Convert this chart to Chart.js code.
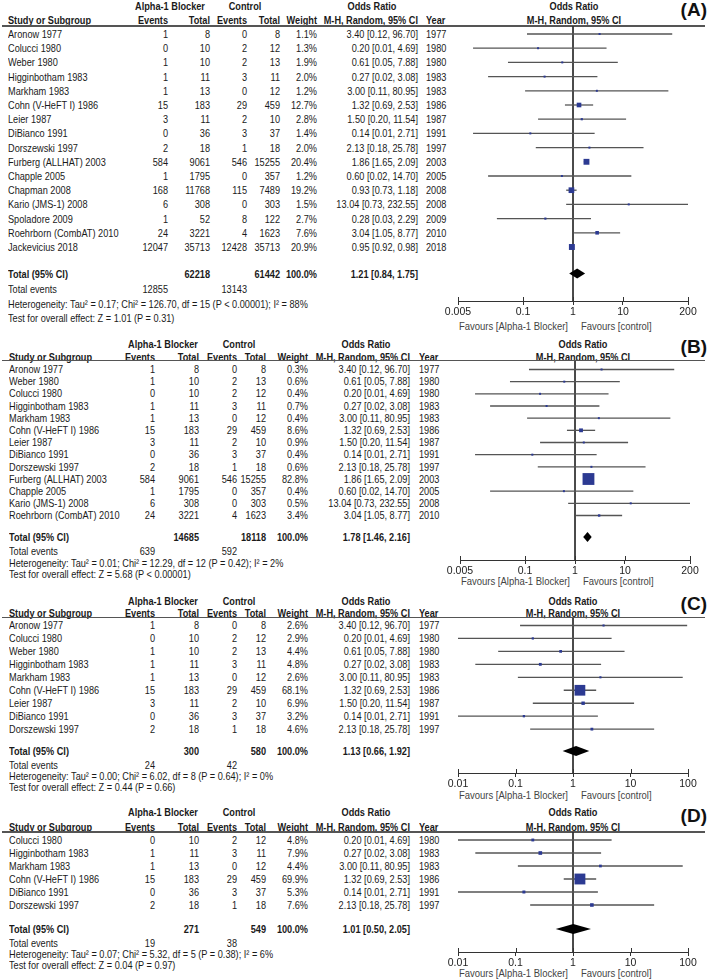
<!DOCTYPE html>
<html><head><meta charset="utf-8">
<script src="https://cdn.jsdelivr.net/npm/chart.js@4.4.1/dist/chart.umd.min.js"></script>
<style>
html,body{margin:0;padding:0;background:#fff;}
#page{position:relative;width:709px;height:980px;overflow:hidden;background:#fff;}
.t{position:absolute;white-space:nowrap;color:#1a1a1a;line-height:12px;height:12px;transform-origin:0 50%;}
.b{font-weight:bold;}
.fav{color:#444;}
.lab{font-weight:bold;line-height:22px;height:22px;color:#111;}
.rule{position:absolute;height:1.2px;background:#555;}
canvas{position:absolute;}
</style></head><body><div id="page"></div>
<script>
// ---------------- DATA ----------------
// Panel A
const studiesA = ['Aronow 1977','Colucci 1980','Weber 1980','Higginbotham 1983','Markham 1983','Cohn (V-HeFT I) 1986','Leier 1987','DiBianco 1991','Dorszewski 1997','Furberg (ALLHAT) 2003','Chapple 2005','Chapman 2008','Kario (JMS-1) 2008','Spoladore 2009','Roehrborn (CombAT) 2010','Jackevicius 2018'];
const alphaEventsA = [1,0,1,1,1,15,3,0,2,584,1,168,6,1,24,12047];
const alphaTotalA = [8,10,10,11,13,183,11,36,18,9061,1795,11768,308,52,3221,35713];
const controlEventsA = [0,2,2,3,0,29,2,3,1,546,0,115,0,8,4,12428];
const controlTotalA = [8,12,13,11,12,459,10,37,18,15255,357,7489,303,122,1623,35713];
const weightA = [1.1,1.3,1.9,2.0,1.2,12.7,2.8,1.4,2.0,20.4,1.2,19.2,1.5,2.7,7.6,20.9];
const oddsA = [3.40,0.20,0.61,0.27,3.00,1.32,1.50,0.14,2.13,1.86,0.60,0.93,13.04,0.28,3.04,0.95];
const lowA = [0.12,0.01,0.05,0.02,0.11,0.69,0.20,0.01,0.18,1.65,0.02,0.73,0.73,0.03,1.05,0.92];
const highA = [96.70,4.69,7.88,3.08,80.95,2.53,11.54,2.71,25.78,2.09,14.70,1.18,232.55,2.29,8.77,0.98];
const yearA = [1977,1980,1980,1983,1983,1986,1987,1991,1997,2003,2005,2008,2008,2009,2010,2018];
const totalA = [62218,61442];
const pooledA = [1.21,0.84,1.75];
const eventsA = [12855,13143];
const hetA = 'Heterogeneity: Tau² = 0.17; Chi² = 126.70, df = 15 (P < 0.00001); I² = 88%';
const effectA = 'Test for overall effect: Z = 1.01 (P = 0.31)';

// Panel B
const studiesB = ['Aronow 1977','Weber 1980','Colucci 1980','Higginbotham 1983','Markham 1983','Cohn (V-HeFT I) 1986','Leier 1987','DiBianco 1991','Dorszewski 1997','Furberg (ALLHAT) 2003','Chapple 2005','Kario (JMS-1) 2008','Roehrborn (CombAT) 2010'];
const alphaEventsB = [1,1,0,1,1,15,3,0,2,584,1,6,24];
const alphaTotalB = [8,10,10,11,13,183,11,36,18,9061,1795,308,3221];
const controlEventsB = [0,2,2,3,0,29,2,3,1,546,0,0,4];
const controlTotalB = [8,13,12,11,12,459,10,37,18,15255,357,303,1623];
const weightB = [0.3,0.6,0.4,0.7,0.4,8.6,0.9,0.4,0.6,82.8,0.4,0.5,3.4];
const oddsB = [3.40,0.61,0.20,0.27,3.00,1.32,1.50,0.14,2.13,1.86,0.60,13.04,3.04];
const lowB = [0.12,0.05,0.01,0.02,0.11,0.69,0.20,0.01,0.18,1.65,0.02,0.73,1.05];
const highB = [96.70,7.88,4.69,3.08,80.95,2.53,11.54,2.71,25.78,2.09,14.70,232.55,8.77];
const yearB = [1977,1980,1980,1983,1983,1986,1987,1991,1997,2003,2005,2008,2010];
const totalB = [14685,18118];
const pooledB = [1.78,1.46,2.16];
const eventsB = [639,592];
const hetB = 'Heterogeneity: Tau² = 0.01; Chi² = 12.29, df = 12 (P = 0.42); I² = 2%';
const effectB = 'Test for overall effect: Z = 5.68 (P < 0.00001)';

// Panel C
const studiesC = ['Aronow 1977','Colucci 1980','Weber 1980','Higginbotham 1983','Markham 1983','Cohn (V-HeFT I) 1986','Leier 1987','DiBianco 1991','Dorszewski 1997'];
const alphaEventsC = [1,0,1,1,1,15,3,0,2];
const alphaTotalC = [8,10,10,11,13,183,11,36,18];
const controlEventsC = [0,2,2,3,0,29,2,3,1];
const controlTotalC = [8,12,13,11,12,459,10,37,18];
const weightC = [2.6,2.9,4.4,4.8,2.6,68.1,6.9,3.2,4.6];
const oddsC = [3.40,0.20,0.61,0.27,3.00,1.32,1.50,0.14,2.13];
const lowC = [0.12,0.01,0.05,0.02,0.11,0.69,0.20,0.01,0.18];
const highC = [96.70,4.69,7.88,3.08,80.95,2.53,11.54,2.71,25.78];
const yearC = [1977,1980,1980,1983,1983,1986,1987,1991,1997];
const totalC = [300,580];
const pooledC = [1.13,0.66,1.92];
const eventsC = [24,42];
const hetC = 'Heterogeneity: Tau² = 0.00; Chi² = 6.02, df = 8 (P = 0.64); I² = 0%';
const effectC = 'Test for overall effect: Z = 0.44 (P = 0.66)';

// Panel D
const studiesD = ['Colucci 1980','Higginbotham 1983','Markham 1983','Cohn (V-HeFT I) 1986','DiBianco 1991','Dorszewski 1997'];
const alphaEventsD = [0,1,1,15,0,2];
const alphaTotalD = [10,11,13,183,36,18];
const controlEventsD = [2,3,0,29,3,1];
const controlTotalD = [12,11,12,459,37,18];
const weightD = [4.8,7.9,4.4,69.9,5.3,7.6];
const oddsD = [0.20,0.27,3.00,1.32,0.14,2.13];
const lowD = [0.01,0.02,0.11,0.69,0.01,0.18];
const highD = [4.69,3.08,80.95,2.53,2.71,25.78];
const yearD = [1980,1983,1983,1986,1991,1997];
const totalD = [271,549];
const pooledD = [1.01,0.50,2.05];
const eventsD = [19,38];
const hetD = 'Heterogeneity: Tau² = 0.07; Chi² = 5.32, df = 5 (P = 0.38); I² = 6%';
const effectD = 'Test for overall effect: Z = 0.04 (P = 0.97)';

// Axis ticks
const ticksAB = [0.005,0.1,1,10,200];
const tickLabelsAB = ['0.005','0.1','1','10','200'];
const ticksCD = [0.01,0.1,1,10,100];
const tickLabelsCD = ['0.01','0.1','1','10','100'];

// ---------------- LAYOUT ----------------
const colsA = {study:8, ae:168, at:210, ce:247, ct:280, w:317, or:418, yr:426, alphaC:170, ctrlC:245, orC:372};
const colsBCD = {study:9, ae:155, at:199, ce:237, ct:266, w:308, or:410, yr:419, alphaC:163, ctrlC:239, orC:366};
const layoutA = {h1:6, h2:19.5, rule:26, row0:34, dy:14.2, total:273.5, ev:289, het:304, test:318, axis:301, favY:326, lab:10, plotL:458, plotR:688, headX:574, cols:colsA};
const layoutB = {h1:344, h2:356.5, rule:360.5, row0:369, dy:12.2, total:537, ev:551, het:563, test:574, axis:560, favY:581, lab:347, plotL:460, plotR:690, headX:583, cols:colsBCD};
const layoutC = {h1:601, h2:613, rule:617.5, row0:625, dy:13, total:751, ev:765, het:776, test:787, axis:773, favY:795, lab:604, plotL:458, plotR:688, headX:573, cols:colsBCD};
const layoutD = {h1:812, h2:827, rule:832, row0:840, dy:13, total:929, ev:943, het:954, test:965, axis:952, favY:973, lab:816, plotL:458, plotR:688, headX:573, cols:colsBCD};

// ---------------- FONT ----------------
const FONT = "'Liberation Sans', Arial, Helvetica, sans-serif";
const FS = 10.8;
function measure(s, size, bold, fam){
  const c=document.createElement('canvas').getContext('2d');
  c.font=(bold?'bold ':'')+size+'px '+(fam||FONT);
  return c.measureText(s).width;
}
function hasFont(f){
  const s='Heterogeneity Tau 0123456789 Study';
  return Math.abs(measure(s,20,false,'monospace')-measure(s,20,false,"'"+f+"', monospace"))>0.5;
}
// horizontal compression so that text widths match the reference widths
const SX = (299/measure(hetA,FS) + 83/measure('Study or Subgroup',FS,true) + 111/measure('Roehrborn (CombAT) 2010',FS))/3;
const SXF = 109/measure('Favours [Alpha-1 Blocker]',11);
const TICKFONT = hasFont('Liberation Sans Narrow') ? "'Liberation Sans Narrow', 'Liberation Sans', sans-serif" : FONT;

const page = document.getElementById('page');
function txt(x,y,s,align,cls,size,sx){
  const e=document.createElement('span');
  e.className='t '+(cls||'');
  e.textContent=s;
  e.style.fontFamily=FONT;
  e.style.fontSize=(size||FS)+'px';
  const lh = cls && cls.indexOf('lab')>=0 ? 22 : 12;
  e.style.left=x+'px';
  e.style.top=(y-lh/2)+'px';
  const tr = align==='r' ? ' translateX(-100%)' : align==='c' ? ' translateX(-50%)' : '';
  e.style.transform='scaleX('+(sx||SX)+')'+tr;
  page.appendChild(e);
}
function rule(x1,x2,y){
  const d=document.createElement('div');
  d.className='rule'; d.style.left=x1+'px'; d.style.width=(x2-x1)+'px'; d.style.top=(y-0.6)+'px';
  page.appendChild(d);
}
const f2 = v => v.toFixed(2);
const orText = (e,l,h) => f2(e)+' ['+f2(l)+', '+f2(h)+']';

const forestPlugin = {
  id:'forest',
  afterDatasetsDraw(chart, args, o){
    const {ctx, scales:{x,y}} = chart;
    const yc = y.getPixelForValue(o.totalY);
    const xl = x.getPixelForValue(o.pooled[1]), xm = x.getPixelForValue(o.pooled[0]), xr = x.getPixelForValue(o.pooled[2]);
    ctx.save();
    ctx.fillStyle='#000';
    ctx.beginPath(); ctx.moveTo(xl,yc); ctx.lineTo(xm,yc-5); ctx.lineTo(xr,yc); ctx.lineTo(xm,yc+5); ctx.closePath(); ctx.fill();
    const yb = chart.chartArea.bottom;
    ctx.strokeStyle='#333'; ctx.lineWidth=1;
    o.ticks.forEach(v=>{const px=Math.round(x.getPixelForValue(v))+0.5; ctx.beginPath(); ctx.moveTo(px,yb-4); ctx.lineTo(px,yb); ctx.stroke();});
    ctx.restore();
  }
};

function panel(P){
  const L=P.L, C=L.cols;
  txt(707, L.lab, P.label, 'r', 'lab', 19, 1);
  txt(C.alphaC, L.h1, 'Alpha-1 Blocker', 'c', 'b');
  txt(C.ctrlC, L.h1, 'Control', 'c', 'b');
  txt(C.orC, L.h1, 'Odds Ratio', 'c', 'b');
  txt(L.headX, L.h1, 'Odds Ratio', 'c', 'b');
  txt(C.study, L.h2, 'Study or Subgroup', 'l', 'b');
  txt(C.ae, L.h2, 'Events', 'r', 'b');
  txt(C.at, L.h2, 'Total', 'r', 'b');
  txt(C.ce, L.h2, 'Events', 'r', 'b');
  txt(C.ct, L.h2, 'Total', 'r', 'b');
  txt(C.w, L.h2, 'Weight', 'r', 'b');
  txt(C.or, L.h2, 'M-H, Random, 95% CI', 'r', 'b');
  txt(C.yr, L.h2, 'Year', 'l', 'b');
  txt(L.headX, L.h2, 'M-H, Random, 95% CI', 'c', 'b');
  rule(2, 705, L.rule);
  P.names.forEach((n,i)=>{
    const y = L.row0 + i*L.dy;
    txt(C.study, y, n, 'l');
    txt(C.ae, y, String(P.ae[i]), 'r');
    txt(C.at, y, String(P.at[i]), 'r');
    txt(C.ce, y, String(P.ce[i]), 'r');
    txt(C.ct, y, String(P.ct[i]), 'r');
    txt(C.w, y, P.w[i].toFixed(1)+'%', 'r');
    txt(C.or, y, orText(P.or[i],P.lo[i],P.hi[i]), 'r');
    txt(C.yr, y, String(P.yr[i]), 'l');
  });
  txt(C.study, L.total, 'Total (95% CI)', 'l', 'b');
  txt(C.at, L.total, String(P.total[0]), 'r', 'b');
  txt(C.ct, L.total, String(P.total[1]), 'r', 'b');
  txt(C.w, L.total, '100.0%', 'r', 'b');
  txt(C.or, L.total, orText(P.pooled[0],P.pooled[1],P.pooled[2]), 'r', 'b');
  txt(C.study, L.ev, 'Total events', 'l');
  txt(C.ae, L.ev, String(P.events[0]), 'r');
  txt(C.ce, L.ev, String(P.events[1]), 'r');
  txt(C.study, L.het, P.het, 'l');
  txt(C.study, L.test, P.effect, 'l');
  const cx = (L.plotL+L.plotR)/2;
  txt(cx-5, L.favY, 'Favours [Alpha-1 Blocker]', 'r', 'fav', 11, SXF);
  txt(cx+8, L.favY, 'Favours [control]', 'l', 'fav', 11, SXF);

  const PAD=24, AXH=22;
  const cv=document.createElement('canvas');
  const W=L.plotR-L.plotL+2*PAD, H=(L.axis-L.rule)+AXH;
  cv.width=W; cv.height=H;
  cv.style.left=(L.plotL-PAD)+'px'; cv.style.top=L.rule+'px';
  cv.style.width=W+'px'; cv.style.height=H+'px';
  page.appendChild(cv);
  const rowY = i => L.row0 + i*L.dy;
  const datasets=[];
  datasets.push({type:'line', data:[{x:1,y:L.rule},{x:1,y:L.axis}], borderColor:'#333', borderWidth:1, pointRadius:0, order:3});
  P.names.forEach((n,i)=>{
    datasets.push({type:'line', data:[{x:P.lo[i],y:rowY(i)},{x:P.hi[i],y:rowY(i)}], borderColor:'#555', borderWidth:1.3, pointRadius:0, order:2});
  });
  datasets.push({type:'line', showLine:false, data:P.or.map((v,i)=>({x:v,y:rowY(i)})),
    pointStyle:'rect', pointRadius:P.w.map(w=>Math.max(2,1.3*Math.sqrt(w))/Math.SQRT2),
    pointBackgroundColor:'#2c3a92', pointBorderWidth:0, pointBorderColor:'#2c3a92', order:0});
  new Chart(cv,{
    type:'line',
    data:{datasets},
    options:{
      responsive:false, animation:false, devicePixelRatio:1,
      layout:{padding:{left:PAD,right:PAD,top:0,bottom:0}, autoPadding:false},
      plugins:{legend:{display:false}, tooltip:{enabled:false},
        forest:{pooled:P.pooled, totalY:L.total, ticks:P.ticks}},
      scales:{
        x:{type:'logarithmic', min:P.ticks[0], max:P.ticks[P.ticks.length-1], position:'bottom',
          afterBuildTicks:s=>{s.ticks=P.ticks.map(v=>({value:v}));},
          afterFit:s=>{s.height=AXH;},
          border:{display:true,color:'#333',width:1},
          grid:{display:true,drawOnChartArea:false,drawTicks:true,tickLength:4,color:'#333'},
          ticks:{autoSkip:false,maxRotation:0,padding:1,color:'#222',font:{family:TICKFONT,size:10.5},
            callback:(v,i)=>P.tickLabels[i]}},
        y:{type:'linear', display:false, reverse:true, min:L.rule, max:L.axis}
      }
    },
    plugins:[forestPlugin]
  });
}

panel({label:'(A)', names:studiesA, ae:alphaEventsA, at:alphaTotalA, ce:controlEventsA, ct:controlTotalA, w:weightA, or:oddsA, lo:lowA, hi:highA, yr:yearA, total:totalA, pooled:pooledA, events:eventsA, het:hetA, effect:effectA, ticks:ticksAB, tickLabels:tickLabelsAB, L:layoutA});
panel({label:'(B)', names:studiesB, ae:alphaEventsB, at:alphaTotalB, ce:controlEventsB, ct:controlTotalB, w:weightB, or:oddsB, lo:lowB, hi:highB, yr:yearB, total:totalB, pooled:pooledB, events:eventsB, het:hetB, effect:effectB, ticks:ticksAB, tickLabels:tickLabelsAB, L:layoutB});
panel({label:'(C)', names:studiesC, ae:alphaEventsC, at:alphaTotalC, ce:controlEventsC, ct:controlTotalC, w:weightC, or:oddsC, lo:lowC, hi:highC, yr:yearC, total:totalC, pooled:pooledC, events:eventsC, het:hetC, effect:effectC, ticks:ticksCD, tickLabels:tickLabelsCD, L:layoutC});
panel({label:'(D)', names:studiesD, ae:alphaEventsD, at:alphaTotalD, ce:controlEventsD, ct:controlTotalD, w:weightD, or:oddsD, lo:lowD, hi:highD, yr:yearD, total:totalD, pooled:pooledD, events:eventsD, het:hetD, effect:effectD, ticks:ticksCD, tickLabels:tickLabelsCD, L:layoutD});
</script>
</body></html>
